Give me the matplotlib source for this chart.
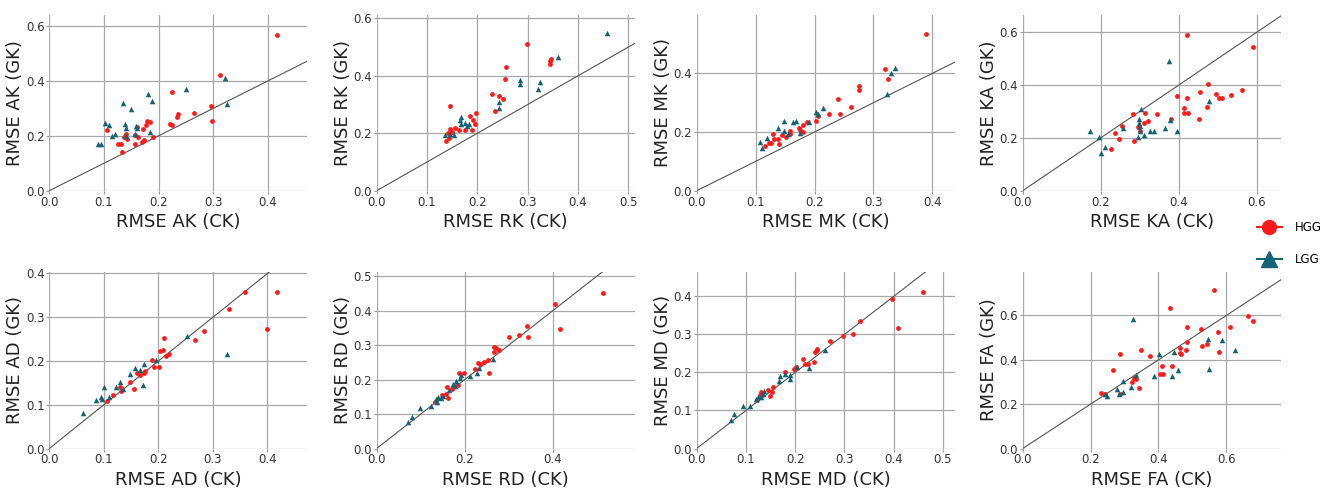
import matplotlib
matplotlib.use("Agg")
import matplotlib.pyplot as plt
from matplotlib.lines import Line2D
import numpy as np

# --- RMSE values, conventional kurtosis (CK) vs generalised kurtosis (GK) ---
AK_HGG_CK = [0.417, 0.313, 0.225, 0.296, 0.298, 0.265, 0.236, 0.234, 0.220, 0.225, 0.179, 0.184, 0.176, 0.172,
             0.106, 0.160, 0.157, 0.140, 0.137, 0.142, 0.163, 0.190, 0.173, 0.169, 0.156, 0.125, 0.131, 0.133]
AK_HGG_GK = [0.568, 0.422, 0.360, 0.308, 0.253, 0.284, 0.281, 0.269, 0.242, 0.239, 0.255, 0.251, 0.241, 0.223,
             0.222, 0.233, 0.202, 0.208, 0.194, 0.190, 0.194, 0.196, 0.184, 0.176, 0.170, 0.170, 0.170, 0.141]
AK_LGG_CK = [0.321, 0.325, 0.250, 0.180, 0.188, 0.134, 0.150, 0.102, 0.109, 0.139, 0.140, 0.159, 0.161, 0.120,
             0.115, 0.156, 0.140, 0.185, 0.090, 0.095]
AK_LGG_GK = [0.412, 0.315, 0.371, 0.353, 0.326, 0.319, 0.299, 0.247, 0.241, 0.242, 0.230, 0.235, 0.229, 0.206,
             0.200, 0.208, 0.199, 0.215, 0.170, 0.170]

RK_HGG_CK = [0.299, 0.347, 0.344, 0.344, 0.257, 0.255, 0.230, 0.243, 0.251, 0.235, 0.145, 0.197, 0.186, 0.191,
             0.196, 0.189, 0.176, 0.164, 0.156, 0.146, 0.150, 0.141, 0.144, 0.138]
RK_HGG_GK = [0.512, 0.458, 0.453, 0.443, 0.430, 0.389, 0.338, 0.330, 0.319, 0.277, 0.295, 0.270, 0.259, 0.247,
             0.232, 0.210, 0.212, 0.211, 0.219, 0.216, 0.205, 0.200, 0.182, 0.172]
RK_LGG_CK = [0.457, 0.361, 0.284, 0.285, 0.324, 0.320, 0.244, 0.243, 0.167, 0.165, 0.168, 0.176, 0.183, 0.179,
             0.135, 0.145, 0.154]
RK_LGG_GK = [0.549, 0.464, 0.386, 0.371, 0.378, 0.355, 0.309, 0.289, 0.255, 0.246, 0.232, 0.237, 0.232, 0.225,
             0.194, 0.197, 0.194]

MK_HGG_CK = [0.390, 0.320, 0.324, 0.276, 0.276, 0.240, 0.262, 0.225, 0.243, 0.206, 0.202, 0.187, 0.180, 0.173,
             0.175, 0.180, 0.159, 0.159, 0.145, 0.151, 0.130, 0.138, 0.132, 0.126, 0.122, 0.140, 0.116]
MK_HGG_GK = [0.534, 0.415, 0.382, 0.357, 0.345, 0.314, 0.284, 0.261, 0.261, 0.256, 0.239, 0.234, 0.224, 0.213,
             0.207, 0.201, 0.205, 0.193, 0.191, 0.184, 0.194, 0.177, 0.175, 0.163, 0.163, 0.158, 0.151]
MK_LGG_CK = [0.336, 0.330, 0.323, 0.214, 0.202, 0.206, 0.191, 0.169, 0.163, 0.148, 0.138, 0.148, 0.155, 0.176,
             0.108, 0.119, 0.111]
MK_LGG_GK = [0.417, 0.400, 0.330, 0.283, 0.267, 0.261, 0.235, 0.236, 0.235, 0.236, 0.214, 0.205, 0.192, 0.198,
             0.165, 0.178, 0.144]

KA_HGG_CK = [0.422, 0.590, 0.476, 0.455, 0.563, 0.535, 0.495, 0.503, 0.511, 0.397, 0.421, 0.415, 0.473, 0.415,
             0.424, 0.452, 0.345, 0.314, 0.282, 0.322, 0.311, 0.381, 0.296, 0.302, 0.256, 0.237, 0.247, 0.285, 0.226]
KA_HGG_GK = [0.592, 0.543, 0.404, 0.373, 0.381, 0.363, 0.365, 0.352, 0.352, 0.360, 0.352, 0.313, 0.316, 0.293,
             0.293, 0.270, 0.292, 0.296, 0.289, 0.265, 0.258, 0.272, 0.240, 0.225, 0.246, 0.217, 0.195, 0.188, 0.157]
KA_LGG_CK = [0.376, 0.479, 0.304, 0.299, 0.298, 0.300, 0.301, 0.297, 0.257, 0.379, 0.364, 0.338, 0.326, 0.395,
             0.311, 0.173, 0.196, 0.211, 0.201]
KA_LGG_GK = [0.493, 0.339, 0.311, 0.270, 0.258, 0.245, 0.227, 0.205, 0.239, 0.268, 0.239, 0.227, 0.226, 0.227,
             0.211, 0.226, 0.205, 0.167, 0.143]

AD_HGG_CK = [0.417, 0.358, 0.330, 0.400, 0.283, 0.268, 0.210, 0.208, 0.203, 0.220, 0.214, 0.188, 0.192, 0.202,
             0.160, 0.176, 0.174, 0.166, 0.148, 0.156, 0.130, 0.132, 0.116, 0.105]
AD_HGG_GK = [0.357, 0.357, 0.318, 0.274, 0.268, 0.249, 0.252, 0.224, 0.222, 0.217, 0.212, 0.202, 0.186, 0.186,
             0.173, 0.176, 0.173, 0.167, 0.153, 0.135, 0.141, 0.132, 0.122, 0.108]
AD_LGG_CK = [0.326, 0.252, 0.196, 0.173, 0.167, 0.157, 0.148, 0.171, 0.130, 0.123, 0.136, 0.100, 0.110, 0.094,
             0.096, 0.085, 0.062]
AD_LGG_GK = [0.215, 0.256, 0.203, 0.192, 0.180, 0.185, 0.171, 0.144, 0.151, 0.141, 0.137, 0.141, 0.117, 0.118,
             0.114, 0.110, 0.082]

RD_HGG_CK = [0.514, 0.405, 0.416, 0.342, 0.343, 0.324, 0.300, 0.267, 0.272, 0.277, 0.267, 0.253, 0.243, 0.230,
             0.234, 0.256, 0.224, 0.198, 0.186, 0.185, 0.173, 0.172, 0.159, 0.158, 0.161, 0.148, 0.132]
RD_HGG_GK = [0.452, 0.419, 0.347, 0.356, 0.324, 0.328, 0.324, 0.295, 0.293, 0.287, 0.280, 0.256, 0.251, 0.248,
             0.245, 0.220, 0.232, 0.219, 0.218, 0.185, 0.178, 0.172, 0.178, 0.159, 0.146, 0.155, 0.136]
RD_LGG_CK = [0.265, 0.233, 0.227, 0.212, 0.191, 0.189, 0.180, 0.174, 0.177, 0.164, 0.150, 0.145, 0.139, 0.135,
             0.138, 0.123, 0.098, 0.081, 0.071]
RD_LGG_GK = [0.261, 0.234, 0.219, 0.209, 0.212, 0.204, 0.195, 0.188, 0.181, 0.169, 0.151, 0.147, 0.149, 0.143,
             0.135, 0.123, 0.118, 0.091, 0.078]

MD_HGG_CK = [0.460, 0.396, 0.408, 0.331, 0.317, 0.298, 0.270, 0.244, 0.245, 0.241, 0.215, 0.238, 0.220, 0.226,
             0.201, 0.197, 0.180, 0.155, 0.152, 0.148, 0.144, 0.130, 0.128, 0.123]
MD_HGG_GK = [0.411, 0.392, 0.318, 0.335, 0.300, 0.295, 0.282, 0.263, 0.258, 0.254, 0.235, 0.227, 0.221, 0.222,
             0.215, 0.209, 0.200, 0.162, 0.149, 0.139, 0.153, 0.149, 0.140, 0.127]
MD_LGG_CK = [0.260, 0.229, 0.204, 0.190, 0.190, 0.179, 0.170, 0.167, 0.137, 0.134, 0.130, 0.125, 0.121, 0.108,
             0.094, 0.076, 0.069]
MD_LGG_GK = [0.258, 0.213, 0.215, 0.194, 0.184, 0.197, 0.190, 0.177, 0.151, 0.144, 0.135, 0.135, 0.131, 0.113,
             0.113, 0.091, 0.076]

FA_HGG_CK = [0.563, 0.435, 0.663, 0.678, 0.485, 0.611, 0.525, 0.576, 0.484, 0.542, 0.528, 0.463, 0.480, 0.577,
             0.463, 0.467, 0.349, 0.374, 0.286, 0.265, 0.410, 0.439, 0.404, 0.412, 0.327, 0.335, 0.321, 0.343,
             0.230, 0.242, 0.288]
FA_HGG_GK = [0.715, 0.632, 0.599, 0.573, 0.546, 0.546, 0.540, 0.526, 0.478, 0.469, 0.460, 0.452, 0.443, 0.436,
             0.431, 0.424, 0.445, 0.419, 0.427, 0.353, 0.372, 0.372, 0.335, 0.335, 0.320, 0.314, 0.299, 0.274,
             0.252, 0.244, 0.247]
FA_LGG_CK = [0.326, 0.547, 0.587, 0.625, 0.445, 0.401, 0.549, 0.456, 0.388, 0.439, 0.335, 0.296, 0.318, 0.296,
             0.277, 0.283, 0.249, 0.242]
FA_LGG_GK = [0.585, 0.494, 0.490, 0.443, 0.434, 0.424, 0.357, 0.356, 0.327, 0.326, 0.330, 0.303, 0.277, 0.255,
             0.268, 0.247, 0.237, 0.247]

METRICS = ["AK", "RK", "MK", "KA", "AD", "RD", "MD", "FA"]
HGG_X = [AK_HGG_CK, RK_HGG_CK, MK_HGG_CK, KA_HGG_CK, AD_HGG_CK, RD_HGG_CK, MD_HGG_CK, FA_HGG_CK]
HGG_Y = [AK_HGG_GK, RK_HGG_GK, MK_HGG_GK, KA_HGG_GK, AD_HGG_GK, RD_HGG_GK, MD_HGG_GK, FA_HGG_GK]
LGG_X = [AK_LGG_CK, RK_LGG_CK, MK_LGG_CK, KA_LGG_CK, AD_LGG_CK, RD_LGG_CK, MD_LGG_CK, FA_LGG_CK]
LGG_Y = [AK_LGG_GK, RK_LGG_GK, MK_LGG_GK, KA_LGG_GK, AD_LGG_GK, RD_LGG_GK, MD_LGG_GK, FA_LGG_GK]

# axis ranges and tick steps per panel
XLIM = [0.472, 0.513, 0.438, 0.662, 0.473, 0.586, 0.524, 0.760]
YLIM = [0.640, 0.612, 0.599, 0.666, 0.404, 0.513, 0.465, 0.797]
XSTEP = [0.1, 0.1, 0.1, 0.2, 0.1, 0.2, 0.1, 0.2]
YSTEP = [0.2, 0.2, 0.2, 0.2, 0.1, 0.1, 0.1, 0.2]

RED = "#ff1a1a"
TEAL = "#146372"

W, H = 1338, 490
fig = plt.figure(figsize=(W / 100, H / 100), dpi=100)

lefts = [49.3, 376.7, 696.7, 1022.7]
rows = [(15.0, 190.7), (271.7, 448.5)]
ax_w = 258.0

for i, name in enumerate(METRICS):
    r, c = divmod(i, 4)
    top, bot = rows[r]
    ax = fig.add_axes([lefts[c] / W, 1 - bot / H, ax_w / W, (bot - top) / H])
    ax.set_xlim(0, XLIM[i])
    ax.set_ylim(0, YLIM[i])
    ax.set_xticks(np.arange(0, XLIM[i] + 1e-9, XSTEP[i]))
    ax.set_yticks(np.arange(0, YLIM[i] + 1e-9, YSTEP[i]))
    ax.xaxis.set_major_formatter(matplotlib.ticker.FormatStrFormatter("%.1f"))
    ax.yaxis.set_major_formatter(matplotlib.ticker.FormatStrFormatter("%.1f"))
    ax.grid(True, color="#a8a8a8", lw=0.9)
    ax.set_axisbelow(True)
    for s in ax.spines.values():
        s.set_visible(False)
    ax.tick_params(length=2, width=0.8, color="#999999", pad=1.5, labelsize=8.5, labelcolor="#333333")

    ax.axline((0, 0), slope=1, color="#555555", lw=0.8, zorder=2)
    ax.scatter(HGG_X[i], HGG_Y[i], s=12, marker="o", color=RED, lw=0, zorder=3, clip_on=False)
    ax.scatter(LGG_X[i], LGG_Y[i], s=16, marker="^", color=TEAL, lw=0, zorder=3, clip_on=False)

    ax.set_xlabel(f"RMSE {name} (CK)", fontsize=13, color="#222222", labelpad=3)
    ax.set_ylabel(f"RMSE {name} (GK)", fontsize=13, color="#222222", labelpad=1)

handles = [
    Line2D([], [], color=RED, marker="o", markersize=10, lw=1.5, label="HGG"),
    Line2D([], [], color=TEAL, marker="^", markersize=11, lw=1.5, label="LGG"),
]
fig.legend(handles=handles, loc="center left", bbox_to_anchor=(1257 / W, 1 - 243.5 / H),
           frameon=False, fontsize=8.5, handlelength=2.1, handletextpad=1.1,
           labelspacing=1.6, borderpad=0, borderaxespad=0)

fig.savefig("out.png", dpi=100)
